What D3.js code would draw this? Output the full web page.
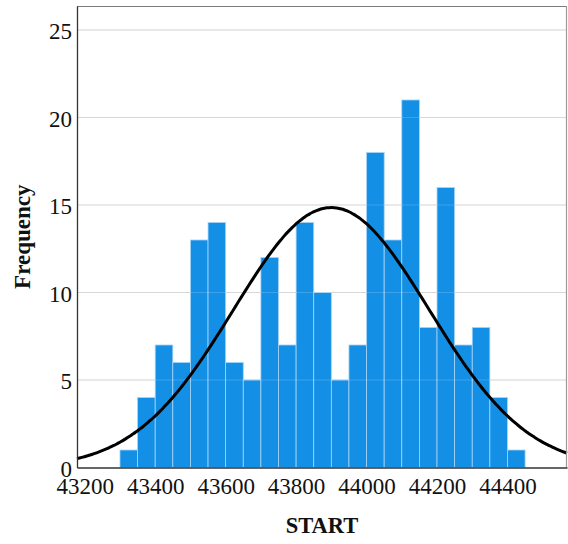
<!DOCTYPE html>
<html>
<head>
<meta charset="utf-8">
<script src="https://cdn.jsdelivr.net/npm/d3@7"></script>
<style>
  body { margin: 0; background: #fff; }
  svg { display: block; }
</style>
</head>
<body>
<div id="chart"></div>
<script>
// histogram bins (lower edge of each 50-wide bin) and counts
var binStarts = [43300, 43350, 43400, 43450, 43500, 43550, 43600, 43650, 43700, 43750, 43800, 43850,
                 43900, 43950, 44000, 44050, 44100, 44150, 44200, 44250, 44300, 44350, 44400];
var counts = [1, 4, 7, 6, 13, 14, 6, 5, 12, 7, 14, 10, 5, 7, 18, 13, 21, 8, 16, 7, 8, 4, 1];
var binWidth = 50;
var xTicks = [43200, 43400, 43600, 43800, 44000, 44200, 44400];
var yTicks = [0, 5, 10, 15, 20, 25];
// normal curve parameters
var meanStart = 43900;
var sdStart = 278;

var serif = "'Liberation Serif', 'Times New Roman', serif";

var margin = { top: 6, right: 1, bottom: 76.5, left: 77 },
    width = 568 - margin.left - margin.right,
    height = 544 - margin.top - margin.bottom;

var svg = d3.select("#chart")
    .append("svg")
    .attr("width", 568)
    .attr("height", 544)
    .append("g")
    .attr("transform", "translate(" + margin.left + "," + margin.top + ")");

var x = d3.scaleLinear().domain([43178, 44569]).range([0, width]);
var y = d3.scaleLinear().domain([0, 26.37]).range([height, 0]);

var gridVals = yTicks.filter(function (d) { return d > 0; });

// gridlines
svg.append("g")
    .selectAll("line")
    .data(gridVals)
    .enter()
    .append("line")
    .attr("x1", 0).attr("x2", width)
    .attr("y1", function (d) { return y(d); })
    .attr("y2", function (d) { return y(d); })
    .attr("stroke", "#cfcfcf")
    .attr("stroke-width", 1);

// bars
svg.append("g")
    .selectAll("rect")
    .data(binStarts)
    .enter()
    .append("rect")
    .attr("x", function (d) { return x(d); })
    .attr("y", function (d, i) { return y(counts[i]); })
    .attr("width", function (d) { return x(d + binWidth) - x(d); })
    .attr("height", function (d, i) { return height - y(counts[i]); })
    .attr("fill", "#138fe6")
    .attr("stroke", "#a9d4f5")
    .attr("stroke-width", 0.8);

// faint gridlines visible through the bars
svg.append("g")
    .selectAll("line")
    .data(gridVals)
    .enter()
    .append("line")
    .attr("x1", 0).attr("x2", width)
    .attr("y1", function (d) { return y(d); })
    .attr("y2", function (d) { return y(d); })
    .attr("stroke", "#ffffff")
    .attr("stroke-opacity", 0.18)
    .attr("stroke-width", 1);

// normal curve
var total = d3.sum(counts);
var curveXs = d3.range(0, 201).map(function (i) { return 43178 + (44569 - 43178) * i / 200; });
var line = d3.line()
    .x(function (d) { return x(d); })
    .y(function (d) {
        var z = (d - meanStart) / sdStart;
        return y(total * binWidth / (sdStart * Math.sqrt(2 * Math.PI)) * Math.exp(-0.5 * z * z));
    })
    .curve(d3.curveBasis);
svg.append("path")
    .datum(curveXs)
    .attr("d", line)
    .attr("fill", "none")
    .attr("stroke", "#000")
    .attr("stroke-width", 3);

// frame top and right
svg.append("line").attr("x1", 0).attr("x2", width).attr("y1", 0.5).attr("y2", 0.5)
    .attr("stroke", "#7a7a7a").attr("stroke-width", 1.2);
svg.append("line").attr("x1", width - 0.5).attr("x2", width - 0.5).attr("y1", 0).attr("y2", height)
    .attr("stroke", "#9a9a9a").attr("stroke-width", 1.2);

// axes
var xAxis = svg.append("g")
    .attr("transform", "translate(0," + height + ")")
    .call(d3.axisBottom(x).tickValues(xTicks).tickSize(0).tickPadding(10).tickFormat(d3.format("d")));
xAxis.select(".domain").attr("stroke", "#333").attr("stroke-width", 1.3);
xAxis.selectAll("text")
    .attr("font-family", serif)
    .attr("font-size", 23)
    .attr("fill", "#111");

var yAxis = svg.append("g")
    .call(d3.axisLeft(y).tickValues(yTicks).tickSize(0).tickPadding(5));
yAxis.select(".domain").attr("stroke", "#333").attr("stroke-width", 1.3);
yAxis.selectAll("text")
    .attr("font-family", serif)
    .attr("font-size", 23)
    .attr("dy", "0.38em")
    .attr("fill", "#111");

// axis titles
svg.append("text")
    .attr("x", width / 2)
    .attr("y", height + 65.5)
    .attr("text-anchor", "middle")
    .attr("font-family", serif)
    .attr("font-weight", "bold")
    .attr("font-size", 22.5)
    .attr("fill", "#111")
    .text("START");

svg.append("text")
    .attr("transform", "translate(" + (-47) + "," + (height / 2) + ")rotate(-90)")
    .attr("text-anchor", "middle")
    .attr("font-family", serif)
    .attr("font-weight", "bold")
    .attr("font-size", 23)
    .attr("fill", "#111")
    .text("Frequency");
</script>
</body>
</html>
